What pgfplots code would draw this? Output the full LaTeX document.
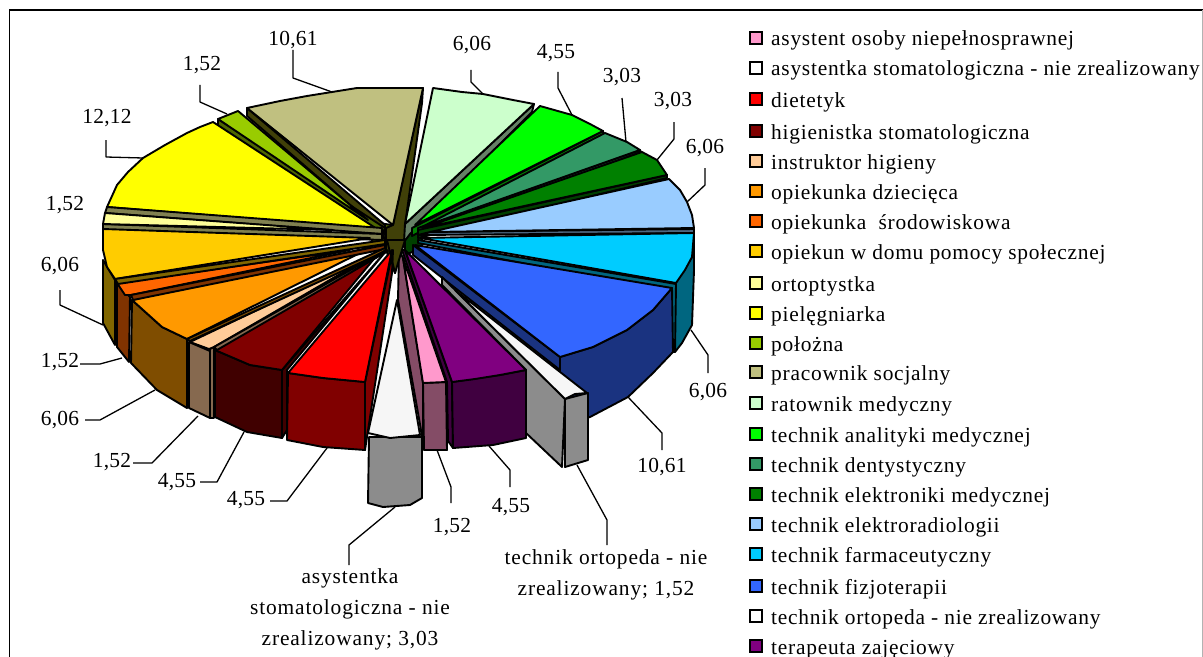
\documentclass[border=0pt]{standalone}
\usepackage{fontspec}
\setmainfont[LetterSpace=1]{Liberation Serif}
\newfontface\legfont[LetterSpace=3.5]{Liberation Serif}
\newfontface\longfont[LetterSpace=4]{Liberation Serif}
\usepackage{pgfplots}
\pgfplotsset{compat=1.18}

\definecolor{cPink}{HTML}{FF99CC}
\definecolor{cPinkD}{HTML}{844C66}
\definecolor{cRed}{HTML}{FF0000}
\definecolor{cMar}{HTML}{800000}
\definecolor{cMarD}{HTML}{400000}
\definecolor{cPeach}{HTML}{FFCC99}
\definecolor{cPeachD}{HTML}{86694F}
\definecolor{cOr}{HTML}{FF9900}
\definecolor{cOrD}{HTML}{7F4D00}
\definecolor{cOrR}{HTML}{FF6600}
\definecolor{cOrRD}{HTML}{803300}
\definecolor{cGold}{HTML}{FFCC00}
\definecolor{cGoldD}{HTML}{806600}
\definecolor{cLY}{HTML}{FFFF99}
\definecolor{cLYD}{HTML}{808050}
\definecolor{cY}{HTML}{FFFF00}
\definecolor{cYD}{HTML}{808000}
\definecolor{cYG}{HTML}{99CC00}
\definecolor{cYGD}{HTML}{4D6600}
\definecolor{cKh}{HTML}{C0C080}
\definecolor{cKhD}{HTML}{404008}
\definecolor{cLG}{HTML}{CCFFCC}
\definecolor{cLGD}{HTML}{668066}
\definecolor{cG}{HTML}{00FF00}
\definecolor{cGD}{HTML}{008000}
\definecolor{cSea}{HTML}{339966}
\definecolor{cSeaD}{HTML}{1A4D33}
\definecolor{cDG}{HTML}{008000}
\definecolor{cDGD}{HTML}{004000}
\definecolor{cLB}{HTML}{99CCFF}
\definecolor{cLBD}{HTML}{4D6680}
\definecolor{cCy}{HTML}{00CCFF}
\definecolor{cCyD}{HTML}{006680}
\definecolor{cB}{HTML}{3366FF}
\definecolor{cBD}{HTML}{1A3380}
\definecolor{cPu}{HTML}{800080}
\definecolor{cPuD}{HTML}{400040}
\definecolor{cGr}{HTML}{8C8C8C}
\definecolor{cWh}{HTML}{F6F6F6}

\newcommand{\poly}[2]{\addplot[fill=#1,draw=black,line width=1.9bp,line join=round] coordinates {#2} --cycle;}
\newcommand{\leader}[1]{\addplot[black,line width=1.3bp,line join=round] coordinates {#1};}
\newcommand{\lab}[3]{\node[align=center,inner sep=0pt,font=\fontsize{21.5}{31}\selectfont] at (axis cs:#1,#2) {#3};}
\newcommand{\longlab}[3]{\node[align=center,inner sep=0pt,font=\longfont\fontsize{21.5}{31}\selectfont] at (axis cs:#1,#2) {#3};}
\newcommand{\legrow}[3]{%
  \addplot[only marks,mark=square*,mark size=6bp,mark options={fill=#1,draw=black,line width=1.6bp}] coordinates {(756,#2)};
  \node[anchor=base west,inner sep=0pt,font=\legfont\fontsize{21.5}{23}\selectfont] at (axis cs:771,#2+8) {#3};}

\begin{document}
\begin{tikzpicture}
\begin{axis}[
    scale only axis,
    width=1203bp,
    height=657bp,
    xmin=0, xmax=1203,
    ymin=0, ymax=657,
    y dir=reverse,
    hide axis,
    clip=true,
]
% page and frame
\addplot[fill=white,draw=none] coordinates {(0,0) (1203,0) (1203,657) (0,657)} --cycle;
\addplot[black,line width=1.6bp] coordinates {(9.5,660) (9.5,10) (1203,10)};
\addplot[gray!60,line width=0.8bp] coordinates {(1202,10) (1202,657)};

% dark centre under everything
\poly{cDGD}{(405,224) (422,228) (422,248) (405,255)}
\poly{cYGD}{(372,222) (392,225) (392,250) (372,245)}

% back slices
\poly{cKhD}{(247,108) (247,116) (385,235) (385,225)}
\poly{cKhD}{(423,88) (393,225) (386,228) (386,250) (395,273) (399,250) (405,245) (405,225) (422,103)}
\poly{cKh}{(393,225) (247,108) (280,101) (307,96) (332,92) (357,88) (423,88)}
\poly{cYGD}{(218,119) (218,126) (380,240) (385,228)}
\poly{cYG}{(368,220) (218,119) (238,111)}
\poly{cYD}{(377,229) (385,238) (370,238)}
\poly{cY}{(377,229) (107,207) (117,185) (128,172) (143,158) (165,145) (187,133) (200,127) (213,122)}
\poly{cLYD}{(107,207) (105,213) (382,234) (382,228)}
\poly{cLYD}{(103,224) (103,230) (382,240) (382,234)}
\poly{cLY}{(333,230) (105,213) (103,224)}

\poly{cLGD}{(534,104) (532,112) (410,234) (404,242) (405,224)}
\poly{cLG}{(405,224) (433,88) (462,92) (483,94) (513,100) (534,104)}
\poly{cGD}{(603,131) (604,135) (412,236) (412,228)}
\poly{cG}{(415,225) (540,106) (572,115) (590,124) (603,131)}
\poly{cSeaD}{(640,150) (641,152) (418,235) (418,228)}
\poly{cSea}{(422,227) (605,133) (627,142) (640,150)}
\poly{cDGD}{(667,175) (667,178) (418,238) (418,230)}
\poly{cDG}{(423,228) (642,152) (657,160) (667,175)}
\poly{cLBD}{(694,229) (694,233) (418,235) (430,232)}
\poly{cLB}{(430,232) (669,179) (680,190) (687,202) (692,215) (694,228)}

% right side walls and tops
\poly{cCyD}{(694,233) (694,270) (692,325) (682,343) (675,352) (675,283) (692,257)}
\poly{cCyD}{(418,240) (676,284) (675,352) (672,352) (672,292) (418,243)}
\poly{cCy}{(420,238) (694,233) (693,245) (692,257) (685,270) (676,283)}
\poly{cBD}{(413,245) (413,255) (560,370) (560,357)}
\poly{cBD}{(560,357) (593,347) (627,330) (653,310) (672,288) (673,352) (653,373) (628,397) (590,417) (560,425)}
\poly{cB}{(415,245) (672,288) (653,310) (627,330) (593,347) (560,357)}

% orthopaedic slice
\poly{cGr}{(442,277) (565,399) (562,467) (526,433) (526,370) (442,285)}
\poly{cGr}{(565,399) (588,393) (588,460) (565,467)}
\poly{cWh}{(455,290) (587,393) (575,394) (565,399)}

% front slices, right to left
\poly{cPuD}{(402,250) (405,250) (452,382) (453,448) (448,441) (447,382)}
\poly{cPuD}{(452,382) (500,375) (526,370) (526,438) (493,445) (453,448)}
\poly{cPu}{(405,250) (526,370) (500,375) (475,379) (452,382)}
\poly{cPinkD}{(399,250) (403,258) (423,383) (423,450) (421,430) (398,300)}
\poly{cPinkD}{(423,383) (446,382) (447,450) (424,450)}
\poly{cPink}{(403,258) (446,382) (423,383)}
\poly{cKhD}{(387,240) (405,240) (395,273)}
\poly{cMar}{(393,250) (392,273) (367,437) (365,450) (365,382)}
\poly{cMar}{(288,373) (323,378) (365,382) (365,450) (323,447) (287,440)}
\poly{cRed}{(392,250) (365,382) (323,378) (288,373)}
\poly{cMarD}{(387,250) (287,370) (287,430) (282,438) (282,370)}
\poly{cMarD}{(215,350) (250,365) (282,370) (282,438) (247,432) (215,417)}
\poly{cMar}{(383,248) (282,370) (250,365) (215,350)}
\poly{cPeachD}{(373,255) (214,347) (214,418) (210,418) (210,349)}
\poly{cPeachD}{(189,342) (210,351) (210,418) (189,408)}
\poly{cPeach}{(373,255) (214,347) (209,349) (190,342)}
\poly{cOrD}{(132,300) (162,327) (187,339) (187,408) (157,390) (131,363)}
\poly{cOr}{(372,247) (187,339) (162,327) (132,300)}
\poly{cOrRD}{(117,283) (130,297) (129,362) (117,347)}
\poly{cOrR}{(350,250) (131,295) (125,295) (117,283)}
\poly{cGoldD}{(103,260) (115,280) (115,345) (103,323)}
\poly{cGold}{(370,238) (115,279) (107,267) (103,250) (103,229)}

% dark strips between the left slices, meeting at the centre
\poly{cGoldD}{(115,279) (118,284) (385,244) (385,240)}
\poly{cOrRD}{(131,295) (133,300) (385,249) (385,245)}
\poly{cOrD}{(187,339) (190,341) (386,251) (385,248)}
\poly{cPeachD}{(214,347) (217,350) (388,251) (386,250)}

% white slice in front
\poly{cGr}{(369,437) (422,437) (422,498) (410,505) (383,507) (368,503)}
\poly{cWh}{(397,300) (420,435) (390,438) (368,433)}

% leaders
\leader{(293,50) (293,78) (332,92)}
\leader{(200,85) (200,102) (227,114)}
\leader{(106,140) (106,157) (143,158)}
\leader{(60,290) (60,305) (103,325)}
\leader{(80,364) (100,364) (122,358)}
\leader{(85,420) (100,420) (155,390)}
\leader{(133,463) (152,463) (198,416)}
\leader{(200,482) (217,482) (244,432)}
\leader{(270,501) (287,501) (327,448)}
\leader{(349,565) (349,545) (395,507)}
\leader{(451,503) (451,487) (437,450)}
\leader{(510,487) (510,470) (489,446)}
\leader{(662,450) (662,433) (628,397)}
\leader{(708,373) (708,355) (691,330)}
\leader{(607,545) (607,520) (577,465)}
\leader{(705,168) (705,185) (687,202)}
\leader{(674,122) (674,139) (657,160)}
\leader{(622,98) (626,142)}
\leader{(558,72) (558,88) (572,115)}
\leader{(471,70) (471,82) (483,94)}

% data labels
\lab{293}{40}{10,61}
\lab{202}{65}{1,52}
\lab{107}{118}{12,12}
\lab{65}{205}{1,52}
\lab{60}{266}{6,06}
\lab{60}{362}{1,52}
\lab{60}{420}{6,06}
\lab{112}{462}{1,52}
\lab{177}{482}{4,55}
\lab{246}{500}{4,55}
\longlab{350}{609}{asystentka\\stomatologiczna - nie\\zrealizowany; 3,03}
\lab{452}{527}{1,52}
\lab{511}{507}{4,55}
\lab{662}{467}{10,61}
\lab{708}{392}{6,06}
\longlab{606}{575}{technik ortopeda - nie\\zrealizowany; 1,52}
\lab{705}{148}{6,06}
\lab{673}{101}{3,03}
\lab{622}{77}{3,03}
\lab{556}{53}{4,55}
\lab{472}{45}{6,06}

% legend
\legrow{cPink}{38}{asystent osoby niepełnosprawnej}
\legrow{white}{68}{asystentka stomatologiczna - nie zrealizowany}
\legrow{cRed}{99}{dietetyk}
\legrow{cMar}{131}{higienistka stomatologiczna}
\legrow{cPeach}{161}{instruktor higieny}
\legrow{cOr}{191}{opiekunka dziecięca}
\legrow{cOrR}{221}{opiekunka\ \ środowiskowa}
\legrow{cGold}{251}{opiekun w domu pomocy społecznej}
\legrow{cLY}{283}{ortoptystka}
\legrow{cY}{313}{pielęgniarka}
\legrow{cYG}{343}{położna}
\legrow{cKh}{372}{pracownik socjalny}
\legrow{cLG}{403}{ratownik medyczny}
\legrow{cG}{434}{technik analityki medycznej}
\legrow{cSea}{464}{technik dentystyczny}
\legrow{cDG}{494}{technik elektroniki medycznej}
\legrow{cLB}{524}{technik elektroradiologii}
\legrow{cCy}{554}{technik farmaceutyczny}
\legrow{cB}{586}{technik fizjoterapii}
\legrow{white}{616}{technik ortopeda - nie zrealizowany}
\legrow{cPu}{646}{terapeuta zajęciowy}
\end{axis}
\end{tikzpicture}
\end{document}
